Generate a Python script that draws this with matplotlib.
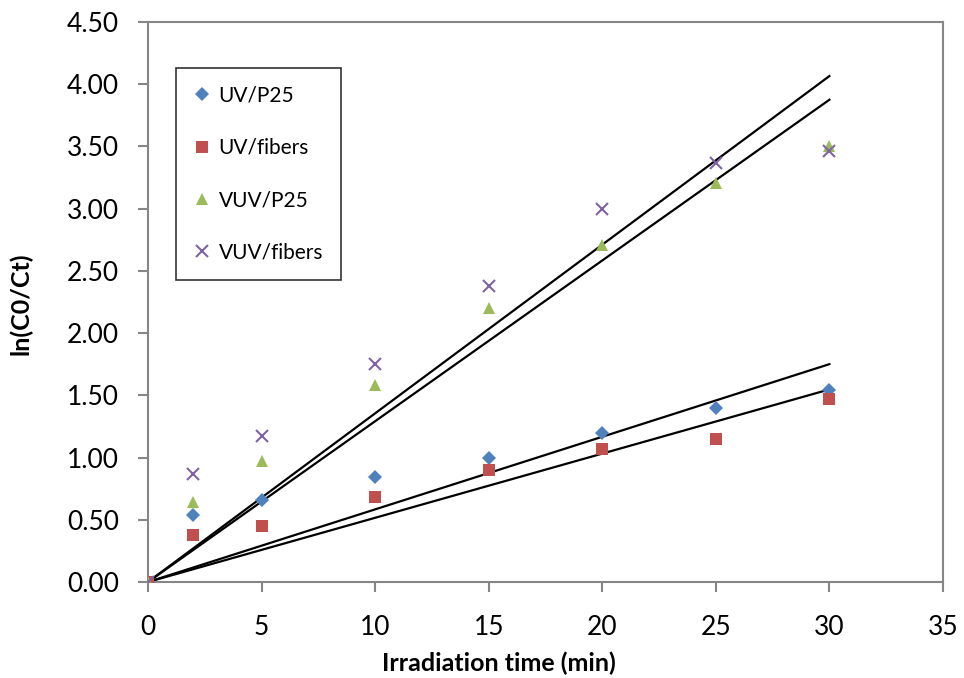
#!/usr/bin/env python3

import numpy as np
import matplotlib.pyplot as plt

plt.rcParams['font.family'] = ['Lato', 'DejaVu Sans']

time_min = [0, 2, 5, 10, 15, 20, 25, 30]
uv_p25 = [0.0, 0.54, 0.66, 0.84, 1.00, 1.20, 1.40, 1.54]
uv_fibers = [0.0, 0.38, 0.45, 0.68, 0.90, 1.07, 1.15, 1.47]
vuv_p25 = [0.0, 0.64, 0.97, 1.58, 2.20, 2.71, 3.21, 3.50]
vuv_fibers = [0.0, 0.87, 1.17, 1.75, 2.38, 3.00, 3.37, 3.46]

names = ['UV/P25', 'UV/fibers', 'VUV/P25', 'VUV/fibers']
series = [uv_p25, uv_fibers, vuv_p25, vuv_fibers]
markers = ['D', 's', '^', 'x']
sizes = [7, 9, 9, 8]
colors = ['#4F81BD', '#C0504D', '#9BBB59', '#8064A2']

fig = plt.figure(figsize=(9.64, 6.78), dpi=100)
ax = fig.add_axes([0.1535, 0.1416, 0.8247, 0.826])

t = np.array(time_min, dtype=float)

# linear trendlines forced through the origin
for y in series:
    y = np.array(y)
    k = np.sum(t * y) / np.sum(t * t)
    ax.plot([0, t.max()], [0, k * t.max()], color='black', lw=1.6, zorder=2)

for y, name, m, s, c in zip(series, names, markers, sizes, colors):
    ax.plot(t, y, linestyle='none', marker=m, markersize=s, color=c,
            markeredgewidth=1.5 if m == 'x' else 0, label=name, zorder=3)

ax.set_xlim(0, 35)
ax.set_ylim(0, 4.5)
ax.set_xticks(np.arange(0, 36, 5))
ax.set_yticks(np.arange(0, 4.51, 0.5))
ax.set_yticklabels(['%.2f' % v for v in np.arange(0, 4.51, 0.5)])

for sp in ax.spines.values():
    sp.set_color('#868686')
    sp.set_linewidth(1.5)
ax.tick_params(direction='out', length=7, width=1.5, color='#868686',
               labelsize=19)
ax.tick_params(axis='y', pad=14)
ax.tick_params(axis='x', pad=17)

ax.set_xlabel('Irradiation time (min)', fontsize=18, fontweight='bold')
ax.set_ylabel('ln(C0/Ct)', fontsize=18, fontweight='bold')
ax.xaxis.set_label_coords(0.442, -0.125)
ax.yaxis.set_label_coords(-0.145, 0.497)

leg = ax.legend(loc='upper left', bbox_to_anchor=(0.035, 0.918), fontsize=15,
                frameon=True, fancybox=False, edgecolor='black',
                labelspacing=1.55, handlelength=0.8, handletextpad=0.4,
                borderpad=0.85, borderaxespad=0)
leg.get_frame().set_linewidth(1.2)

plt.savefig('out.png', dpi=100)
